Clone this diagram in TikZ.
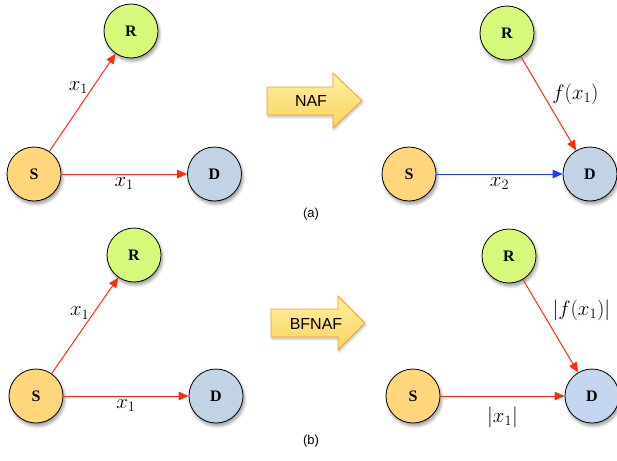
\documentclass[tikz,border=0pt]{standalone}
\usepackage{fontspec}
\newfontfamily\lblfont{Liberation Sans}
\newfontfamily\nodefontfam{Liberation Serif}
\usetikzlibrary{arrows.meta,shadows.blur}
\definecolor{rgreen}{HTML}{D6F97C}
\definecolor{sorange}{HTML}{FFD67C}
\definecolor{dblue}{HTML}{C2D3E5}
\definecolor{dblueb}{HTML}{C4D5EF}
\definecolor{redarr}{HTML}{FF2C12}
\definecolor{bluearr}{HTML}{1E3CFF}
\definecolor{arrborder}{HTML}{EFA12C}
\definecolor{arrtop}{HTML}{FFF0A0}
\definecolor{arrbot}{HTML}{FAD260}
\begin{document}
\begin{tikzpicture}[x=1pt,y=-1pt,
  nd/.style={circle,draw=black,line width=0.8pt,minimum size=54pt,inner sep=0pt,
    font=\nodefontfam\bfseries\fontsize{16}{18}\selectfont,
    blur shadow={shadow xshift=1.5pt,shadow yshift=-3pt,shadow blur radius=3pt,shadow blur steps=6,shadow opacity=40}},
  ra/.style={draw=redarr,line width=1pt,-{Triangle[length=10pt,width=8.5pt]}},
  ba/.style={draw=bluearr,line width=1pt,-{Triangle[length=10pt,width=8.5pt]}},
  lbl/.style={inner sep=0pt,font=\fontsize{22.5}{25}\selectfont},
  bigarr/.style={draw=arrborder,line width=0.8pt,top color=arrtop,bottom color=arrbot,line join=miter,
    blur shadow={shadow xshift=1pt,shadow yshift=-2pt,shadow blur radius=2pt,shadow blur steps=5,shadow opacity=25}},
  arrtxt/.style={inner sep=0pt,font=\lblfont\fontsize{16}{18}\selectfont},
  capt/.style={inner sep=0pt,font=\lblfont\fontsize{13}{15}\selectfont}]
\useasboundingbox (0,0) rectangle (617,460);

% ---------- (a) ----------
\path[bigarr] (267,87) -- (333,87) -- (333,73) -- (362,100.5) -- (333,128) -- (333,115) -- (267,115) -- cycle;
\node[arrtxt] (naf) at (311,101) {NAF};

\node[nd,fill=rgreen]  (R1) at (131,31)  {R};
\node[nd,fill=sorange] (S1) at (34,174)  {S};
\node[nd,fill=dblue]   (D1) at (214.5,174) {D};

\draw[ra] (S1) -- node[lbl,pos=0.65,left=4pt] {$x_1$} (R1);
\draw[ra] (S1) -- node[lbl,below=3pt] {$x_1$} (D1);

\node[nd,fill=rgreen]  (R2) at (507,33)  {R};
\node[nd,fill=sorange] (S2) at (409,174) {S};
\node[nd,fill=dblue]   (D2) at (590,174) {D};

\draw[ra] (R2) -- node[lbl,pos=0.4,right=9pt] {$f(x_1)$} (D2);
\draw[ba] (S2) -- node[lbl,below=3pt] {$x_2$} (D2);

\node[capt] (capa) at (311,214) {(a)};

% ---------- (b) ----------
\path[bigarr] (271,309) -- (338,309) -- (338,296) -- (365,323) -- (338,350) -- (338,337) -- (271,337) -- cycle;
\node[arrtxt] (bfnaf) at (316,323.5) {BFNAF};

\node[nd,fill=rgreen]  (R3) at (134,255) {R};
\node[nd,fill=sorange] (S3) at (36,396)  {S};
\node[nd,fill=dblue]   (D3) at (216,396) {D};

\draw[ra] (S3) -- node[lbl,pos=0.63,left=4pt] {$x_1$} (R3);
\draw[ra] (S3) -- node[lbl,below=3pt] {$x_1$} (D3);

\node[nd,fill=rgreen]  (R4) at (509,256) {R};
\node[nd,fill=sorange] (S4) at (413,396) {S};
\node[nd,fill=dblueb]  (D4) at (592,396) {D};

\draw[ra] (R4) -- node[lbl,pos=0.33,right=11pt] {$|f(x_1)|$} (D4);
\draw[ra] (S4) -- node[lbl,below=10pt] {$|x_1|$} (D4);

\node[capt] (capb) at (311,441) {(b)};
\end{tikzpicture}
\end{document}
